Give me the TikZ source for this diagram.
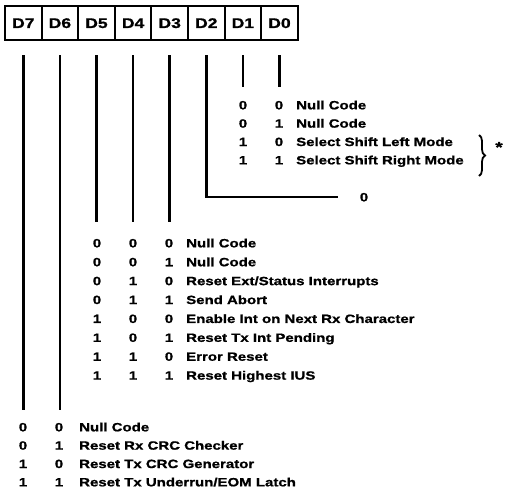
\documentclass[tikz,border=0pt]{standalone}
\usepackage{fontspec}
\setmainfont{Liberation Sans}[FakeStretch=1.25,BoldFeatures={FakeBold=1}]
\usetikzlibrary{decorations.pathreplacing}
\begin{document}
\begin{tikzpicture}[x=1pt,y=-1pt,
  box/.style={draw,line width=2pt,minimum width=36.6pt,minimum height=34pt,inner sep=0pt,
    font=\fontsize{14}{14}\selectfont\bfseries,text height=10pt,text depth=0pt},
  wire/.style={line width=2.6pt,line join=miter},
  txt/.style={font=\fontsize{12}{12}\selectfont\bfseries,inner sep=0pt,text height=8.7pt,text depth=0pt},
  desc/.style={txt,anchor=west},
  ]
\useasboundingbox (0,0) rectangle (505,495);
% register boxes
\foreach \i/\x in {7/23.3,6/59.9,5/96.5,4/133.1,3/169.7,2/206.3,1/242.9,0/279.5}{
  \node[box] (b\i) at (\x,23) {D\i};
  \coordinate (t\i) at (\x,55);
}
% wire ends
\coordinate (e7) at (23.3,410);
\coordinate (e6) at (59.9,410);
\coordinate (e5) at (96.5,222);
\coordinate (e4) at (133.1,222);
\coordinate (e3) at (169.7,222);
\coordinate (k2) at (206.3,197);
\coordinate (e2) at (338,197);
\coordinate (e1) at (242.9,87);
\coordinate (e0) at (279.5,87);
\foreach \i in {7,6,5,4,3,1,0}{\draw[wire] (t\i) -- (e\i);}
\draw[wire] (t2) -- (k2) -- (e2);
\node[txt] (z2) at (364,197) {0};
% D1 D0 table
\foreach \y/\a/\b/\t [count=\k] in {105/0/0/Null Code,123.3/0/1/Null Code,141.7/1/0/Select Shift Left Mode,160/1/1/Select Shift Right Mode}{
  \node[txt] (ta\k) at (243,\y) {\a};
  \node[txt] (tb\k) at (279,\y) {\b};
  \node[desc] (tt\k) at (296,\y) {\t};
}
\draw[decorate,decoration={brace,amplitude=6pt},line width=1.8pt] (479,135) -- (479,176);
\node[txt,font=\fontsize{15}{15}\selectfont\bfseries] (star) at (499,148) {*};
% D5 D4 D3 table
\foreach \y/\a/\b/\c/\t [count=\k] in {243/0/0/0/Null Code,261.9/0/0/1/Null Code,280.8/0/1/0/{Reset Ext/Status Interrupts},299.7/0/1/1/Send Abort,318.6/1/0/0/Enable Int on Next Rx Character,337.5/1/0/1/Reset Tx Int Pending,356.4/1/1/0/Error Reset,375.3/1/1/1/Reset Highest IUS}{
  \node[txt] (ma\k) at (97,\y) {\a};
  \node[txt] (mb\k) at (133,\y) {\b};
  \node[txt] (mc\k) at (169,\y) {\c};
  \node[desc] (mt\k) at (186,\y) {\t};
}
% D7 D6 table
\foreach \y/\a/\b/\t [count=\k] in {427/0/0/Null Code,445.3/0/1/Reset Rx CRC Checker,463.7/1/0/Reset Tx CRC Generator,482/1/1/{Reset Tx Underrun/EOM Latch}}{
  \node[txt] (ba\k) at (23,\y) {\a};
  \node[txt] (bb\k) at (59,\y) {\b};
  \node[desc] (bt\k) at (79,\y) {\t};
}
\end{tikzpicture}
\end{document}
